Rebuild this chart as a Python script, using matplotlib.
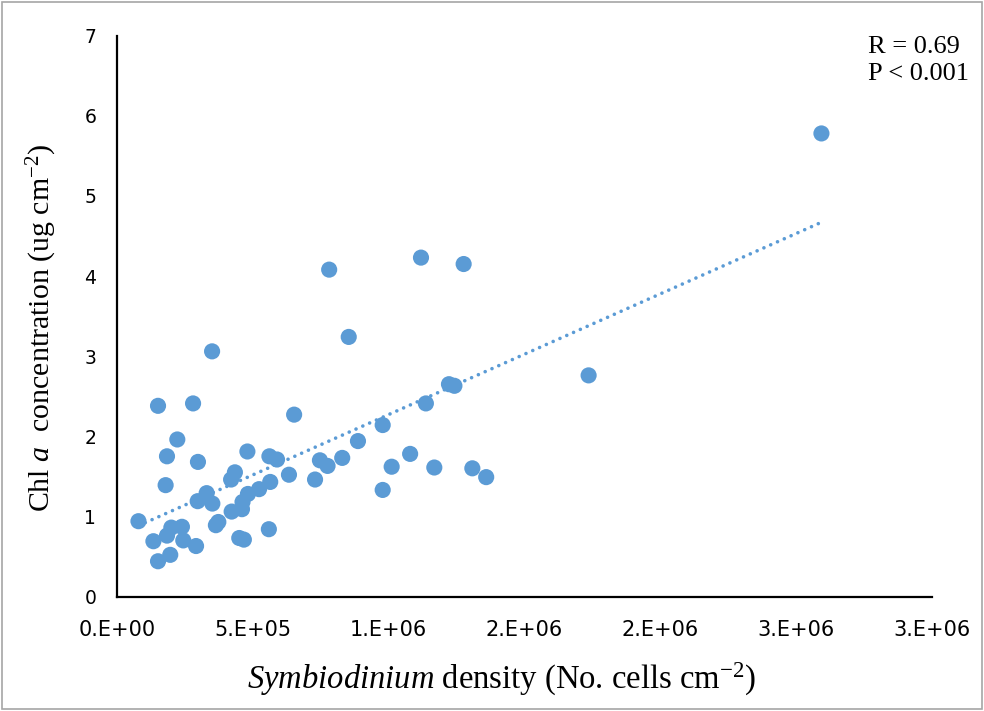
import numpy as np
import matplotlib
matplotlib.use("Agg")
import matplotlib.pyplot as plt
from matplotlib.patches import Rectangle

# Symbiodinium density (cells cm-2)
density = [79000, 134000, 151000, 151000, 184000, 179000, 184000, 196000, 200000, 222000,
           239000, 244000, 280000, 291000, 298000, 297000, 330000, 350000, 351000, 364000,
           373000, 422000, 434000, 420000, 450000, 462000, 460000, 467000, 480000, 482000,
           523000, 559000, 561000, 564000, 589000, 633000, 652000, 729000, 747000, 775000,
           781000, 829000, 853000, 887000, 978000, 978000, 1011000, 1079000, 1119000, 1137000,
           1168000, 1222000, 1242000, 1276000, 1308000, 1359000, 1736000, 2593000]
# Chl a concentration (ug cm-2)
chla = [0.94, 0.69, 0.44, 2.38, 1.75, 1.39, 0.76, 0.52, 0.86, 1.96,
        0.87, 0.70, 2.41, 0.63, 1.68, 1.19, 1.29, 3.06, 1.16, 0.89,
        0.93, 1.06, 1.55, 1.46, 0.73, 1.18, 1.09, 0.71, 1.81, 1.28,
        1.34, 0.84, 1.75, 1.43, 1.71, 1.52, 2.27, 1.46, 1.70, 1.63,
        4.08, 1.73, 3.24, 1.94, 2.14, 1.33, 1.62, 1.78, 4.23, 2.41,
        1.61, 2.65, 2.63, 4.15, 1.60, 1.49, 2.76, 5.78]

xticks = [0, 5e5, 1e6, 1.5e6, 2e6, 2.5e6, 3e6]
xticklabels = ["0.E+00", "5.E+05", "1.E+06", "2.E+06", "2.E+06", "3.E+06", "3.E+06"]
yticks = [0, 1, 2, 3, 4, 5, 6, 7]

stats_text = "R = 0.69\nP < 0.001"

plt.rcParams['mathtext.fontset'] = 'custom'
plt.rcParams['mathtext.rm'] = 'Liberation Serif'
plt.rcParams['mathtext.it'] = 'Liberation Serif:italic'

W, H = 984, 711
fig = plt.figure(figsize=(W / 100, H / 100), dpi=100)
ax = fig.add_axes([117 / W, 1 - 596.5 / H, (932 - 117) / W, (596.5 - 35.7) / H])

col = '#5B9BD5'
x = np.array(density, dtype=float)
y = np.array(chla, dtype=float)
ax.scatter(x, y, s=135, color=col, edgecolors='none', zorder=3)

# linear trendline
k, b = np.polyfit(x, y, 1)
xs = np.array([x.min(), x.max()])
ax.plot(xs, k * xs + b, color=col, lw=2.6, linestyle=(0, (0.01, 2.05)),
        dash_capstyle='round', zorder=2)

ax.set_xlim(0, 3e6)
ax.set_ylim(0, 7)
ax.set_xticks(xticks)
ax.set_xticklabels(xticklabels, fontfamily=['Liberation Sans Narrow', 'DejaVu Sans'], fontsize=15)
ax.set_yticks(yticks)
ax.set_yticklabels([str(v) for v in yticks], fontfamily='DejaVu Sans', fontsize=13.5)
ax.tick_params(axis='both', length=0)
ax.tick_params(axis='x', pad=17)
ax.tick_params(axis='y', pad=15)

for s in ['top', 'right']:
    ax.spines[s].set_visible(False)
for s in ['left', 'bottom']:
    ax.spines[s].set_linewidth(1.6)
    ax.spines[s].set_color('black')

fig.text(501 / W, 1 - 679 / H, r"$Symbiodinium$ density (No. cells cm$^{-2}$)",
         fontfamily='Liberation Serif', fontsize=23.5, ha='center', va='center')
fig.text(42 / W, 1 - 328 / H, r"Chl $a$  concentration (ug cm$^{-2}$)",
         fontfamily='Liberation Serif', fontsize=21.5, ha='center', va='center', rotation=90)

fig.text(868 / W, 1 - 36 / H, stats_text, fontfamily='Liberation Serif', fontsize=19,
         ha='left', va='top', linespacing=1.3)

fig.patches.append(Rectangle((2 / W, 2 / H), (W - 4) / W, (H - 4) / H, transform=fig.transFigure,
                             fill=False, edgecolor='#a6a6a6', lw=1.2))

fig.savefig('out.png', dpi=100)
